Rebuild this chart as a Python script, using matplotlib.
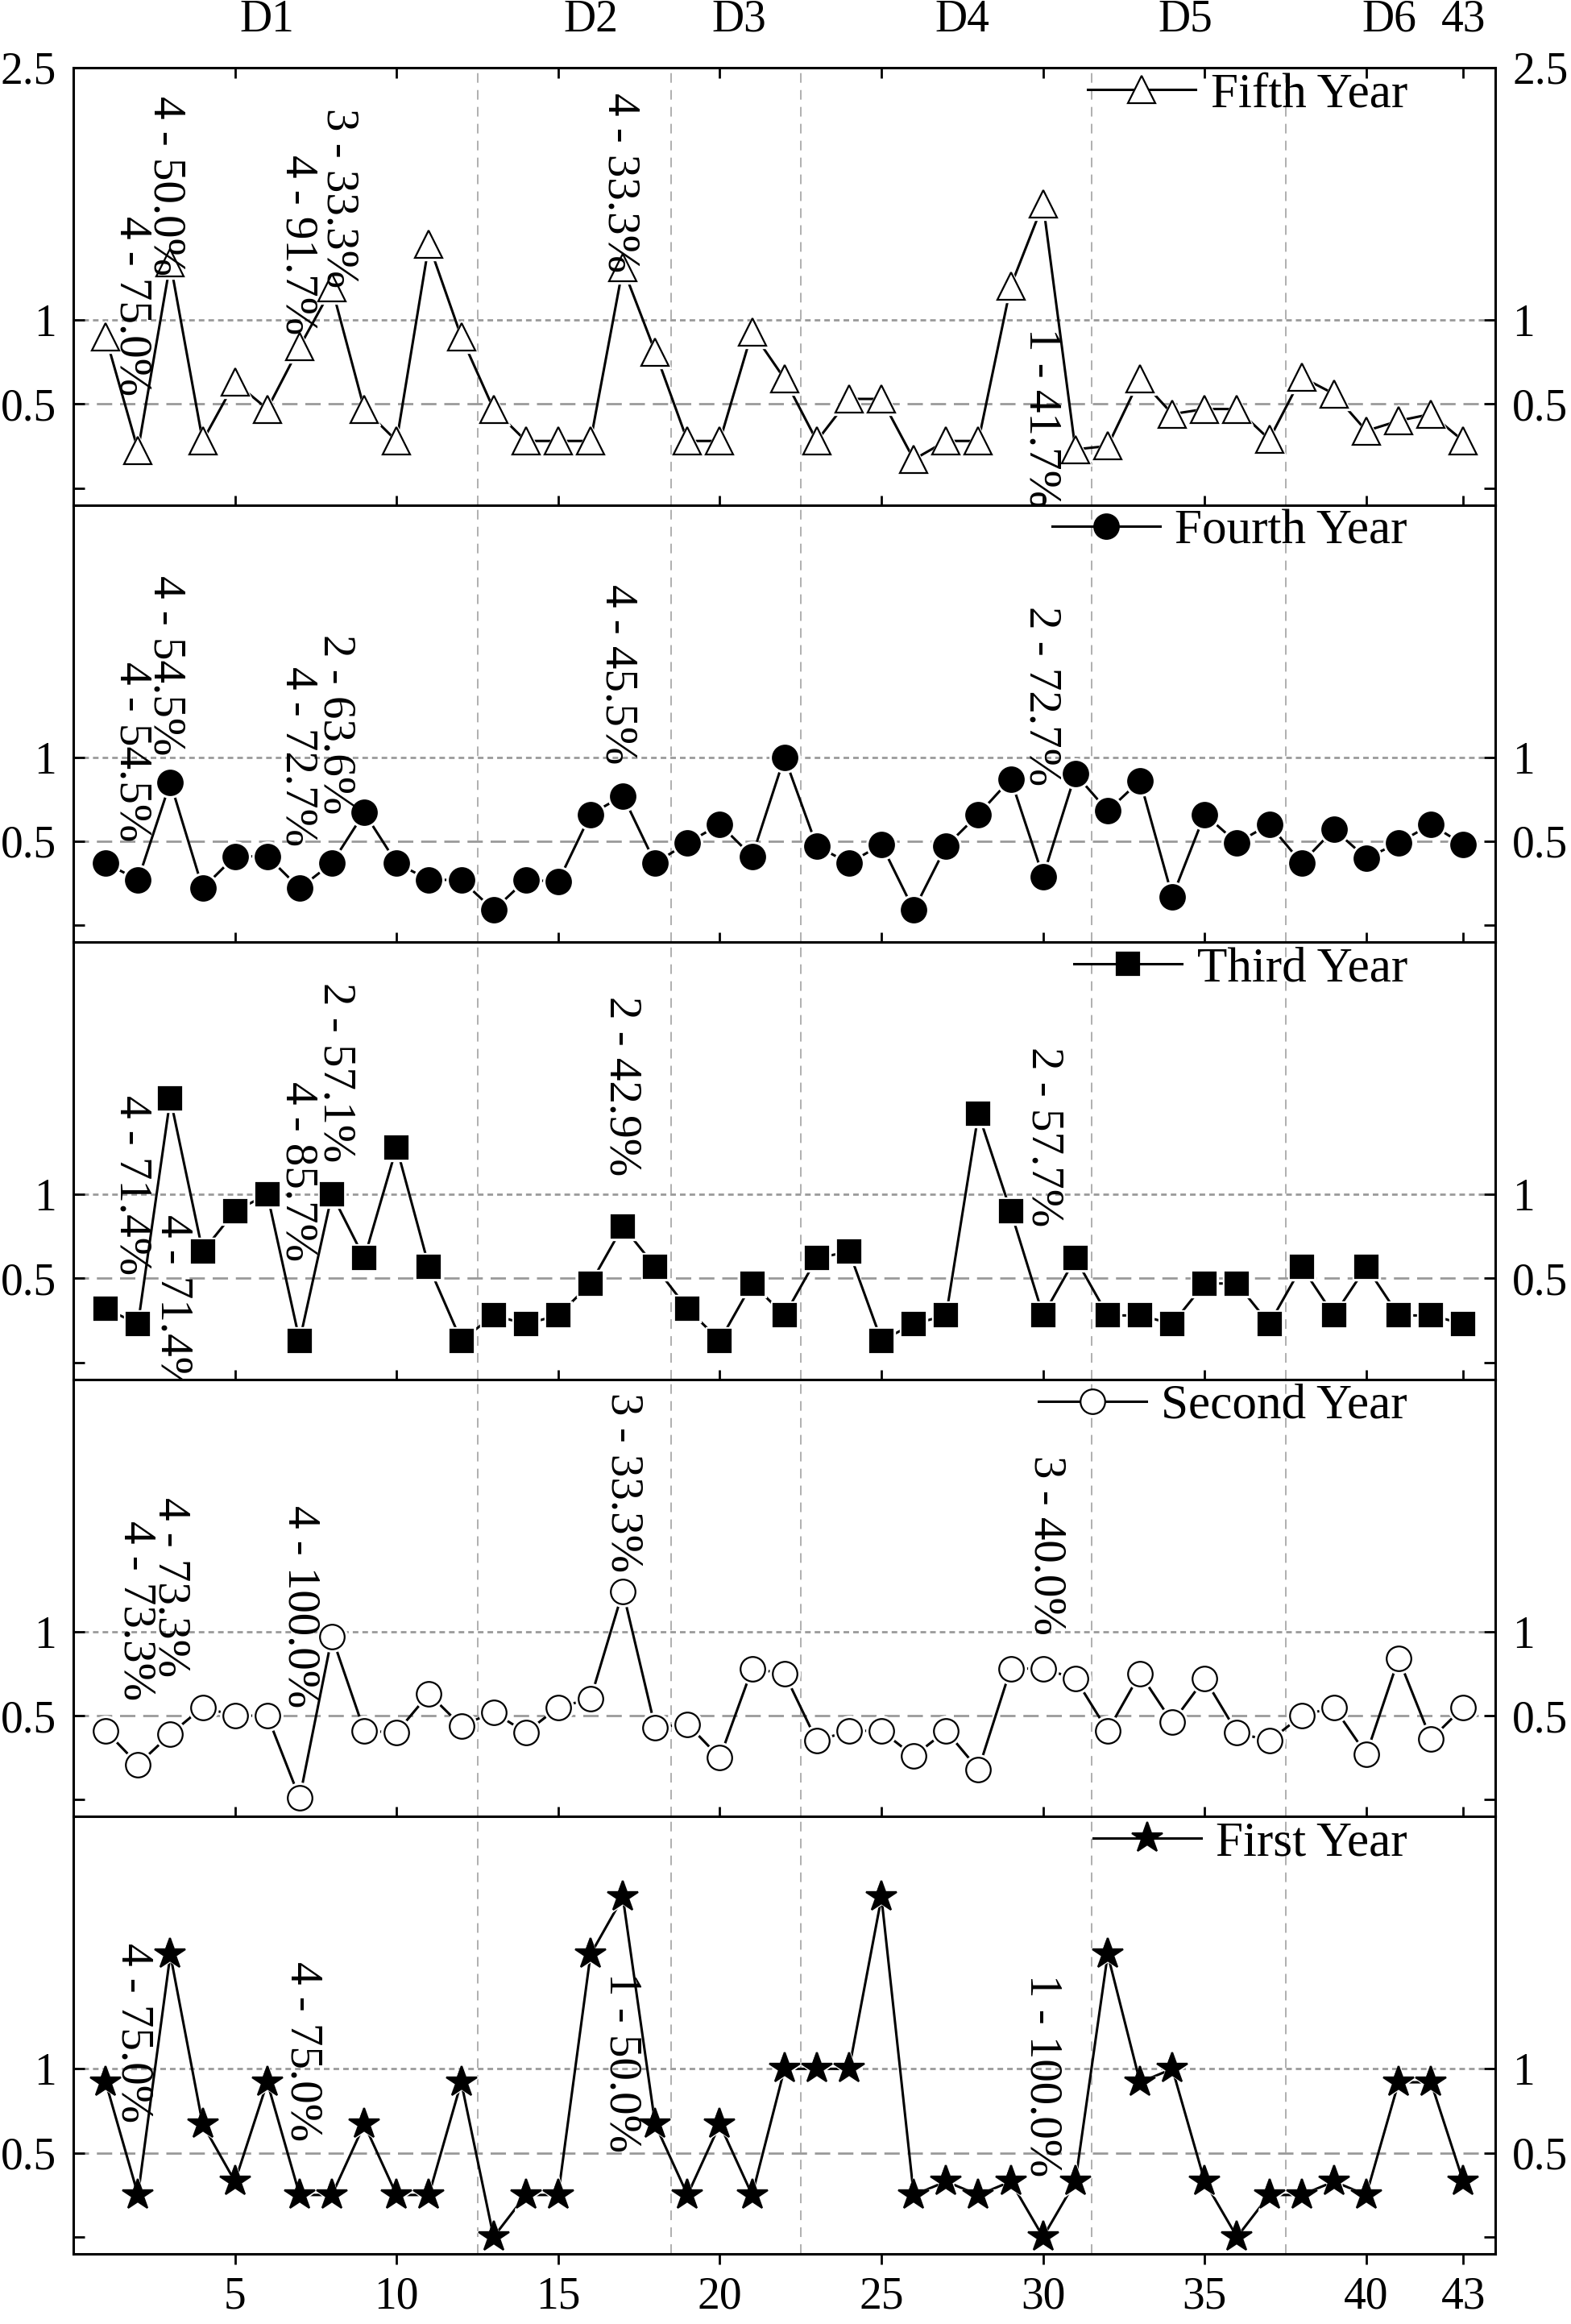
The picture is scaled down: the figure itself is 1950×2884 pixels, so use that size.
import matplotlib
matplotlib.use('Agg')
import matplotlib.pyplot as plt

plt.rcParams['font.family'] = ['Liberation Serif', 'DejaVu Serif']
plt.rcParams['lines.scale_dashes'] = False

# data
x = list(range(1, 44))

fifth = [0.90, 0.225, 1.34, 0.28, 0.63, 0.47, 0.84, 1.19, 0.47, 0.28,
         1.45, 0.90, 0.47, 0.28, 0.28, 0.28, 1.31, 0.81, 0.28, 0.28,
         0.93, 0.65, 0.28, 0.53, 0.53, 0.17, 0.28, 0.28, 1.20, 1.69,
         0.23, 0.25, 0.65, 0.44, 0.47, 0.47, 0.29, 0.66, 0.56, 0.34,
         0.40, 0.44, 0.28]
fourth = [0.37, 0.27, 0.85, 0.22, 0.41, 0.41, 0.22, 0.37, 0.67, 0.37,
          0.27, 0.27, 0.09, 0.27, 0.26, 0.66, 0.77, 0.37, 0.49, 0.60,
          0.41, 1.00, 0.47, 0.37, 0.48, 0.09, 0.47, 0.66, 0.87, 0.29,
          0.90, 0.68, 0.86, 0.17, 0.66, 0.49, 0.60, 0.37, 0.57, 0.40,
          0.49, 0.60, 0.48]
third = [0.32, 0.23, 1.57, 0.66, 0.90, 1.00, 0.13, 1.00, 0.62, 1.28,
         0.57, 0.13, 0.28, 0.23, 0.28, 0.47, 0.81, 0.57, 0.32, 0.13,
         0.47, 0.28, 0.62, 0.66, 0.13, 0.23, 0.28, 1.48, 0.90, 0.28,
         0.62, 0.28, 0.28, 0.23, 0.47, 0.47, 0.23, 0.57, 0.28, 0.57,
         0.28, 0.28, 0.23]
second = [0.41, 0.21, 0.39, 0.55, 0.50, 0.50, 0.01, 0.97, 0.41, 0.40,
          0.63, 0.44, 0.52, 0.40, 0.55, 0.60, 1.24, 0.43, 0.45, 0.25,
          0.78, 0.75, 0.35, 0.41, 0.41, 0.26, 0.41, 0.18, 0.78, 0.78,
          0.72, 0.41, 0.75, 0.46, 0.72, 0.40, 0.35, 0.50, 0.55, 0.27,
          0.84, 0.36, 0.55]
first = [0.92, 0.25, 1.68, 0.67, 0.33, 0.92, 0.25, 0.25, 0.67, 0.25,
         0.25, 0.92, 0.00, 0.25, 0.25, 1.68, 2.02, 0.67, 0.25, 0.67,
         0.25, 1.00, 1.00, 1.00, 2.02, 0.25, 0.33, 0.25, 0.33, 0.00,
         0.33, 1.68, 0.92, 1.00, 0.33, 0.00, 0.25, 0.25, 0.33, 0.25,
         0.92, 0.92, 0.33]

names = ['Fifth Year', 'Fourth Year', 'Third Year', 'Second Year', 'First Year']
values = [fifth, fourth, third, second, first]

group_bounds = [12.5, 18.5, 22.5, 31.5, 37.5]
top_labels = ['D1', 'D2', 'D3', 'D4', 'D5', 'D6', '43']
top_pos = [6.0, 16.0, 20.6, 27.5, 34.4, 40.7, 43]

notes = [
    [('4 - 75.0%', 1.81, 1.62), ('4 - 50.0%', 2.86, 2.33), ('4 - 91.7%', 6.94, 1.98),
     ('3 - 33.3%', 8.2, 2.26), ('4 - 33.3%', 16.9, 2.35), ('1 - 41.7%', 29.95, 0.95)],
    [('4 - 54.5%', 1.81, 1.57), ('4 - 54.5%', 2.86, 2.08), ('4 - 72.7%', 6.94, 1.54),
     ('2 - 63.6%', 8.12, 1.73), ('4 - 45.5%', 16.84, 2.03), ('2 - 72.7%', 29.95, 1.90)],
    [('4 - 71.4%', 1.81, 1.59), ('4 - 71.4%', 3.07, 0.88), ('4 - 85.7%', 6.94, 1.67),
     ('2 - 57.1%', 8.12, 2.26), ('2 - 42.9%', 16.95, 2.18), ('2 - 57.7%', 30.03, 1.88)],
    [('4 - 73.3%', 1.92, 1.66), ('4 - 73.3%', 3.0, 1.80), ('4 - 100.0%', 7.02, 1.75),
     ('3 - 33.3%', 17.0, 2.42), ('3 - 40.0%', 30.1, 2.05)],
    [('4 - 75.0%', 1.86, 1.75), ('4 - 75.0%', 7.1, 1.64), ('1 - 50.0%', 16.95, 1.57),
     ('1 - 100.0%', 29.98, 1.56)],
]

# marker, face colour, size
styles = [('^', 'white', 24), ('o', 'black', 22), ('s', 'black', 20),
          ('o', 'white', 22), ('*', 'black', 29)]

fig, axes = plt.subplots(5, 1, figsize=(19.5, 28.84), dpi=100, sharex=True)
fig.subplots_adjust(left=0.0467, right=0.952, bottom=0.0302, top=0.9709, hspace=0)

for i, ax in enumerate(axes):
    m, fc, ms = styles[i]
    y = values[i]
    ax.plot(x, y, color='black', lw=2.2, marker=m, ms=ms, mfc=fc, mec='black',
            mew=1.6, label=names[i], zorder=2)
    ax.plot(x, y, lw=0, marker=m, ms=ms + 5, mfc='white', mec='white', zorder=3)
    ax.plot(x, y, lw=0, marker=m, ms=ms, mfc=fc, mec='black', mew=1.6, zorder=4)

    for b in group_bounds:
        ax.axvline(b, color='#9a9a9a', lw=1.1, ls=(0, (8.6, 6.5)), zorder=1)
    ax.axhline(1, color='#9a9a9a', lw=2.0, ls=(0, (5, 3.6)), zorder=1)
    ax.axhline(0.5, color='#9a9a9a', lw=2.0, ls=(0, (13.7, 7)), zorder=1)

    for txt, tx, ty in notes[i]:
        ax.text(tx, ty, txt, rotation=-90, ha='center', va='top', fontsize=41,
                zorder=5)

    ax.set_xlim(0, 44)
    ax.set_ylim(-0.1, 2.5)
    ax.set_yticks([0, 0.5, 1, 2.5])
    ax.set_yticklabels(['', '0.5', '1', '2.5' if i == 0 else ''])
    ax.tick_params(axis='y', direction='in', left=True, right=True,
                   labelleft=True, labelright=True, length=10, width=2,
                   labelsize=40)
    ax.tick_params(axis='y', which='major', pad=15)
    for lab in ax.get_yticklabels(which='major'):
        pass
    ax.yaxis.set_tick_params(which='major', labelright=True)
    for t in ax.yaxis.get_major_ticks():
        t.label2.set_x(1.0)
    for s in ax.spines.values():
        s.set_linewidth(2.2)

    ax.legend(loc='upper right', bbox_to_anchor=(0.938, 0.99), frameon=False,
              borderaxespad=0, borderpad=0, handlelength=2.2,
              handletextpad=0.3, fontsize=44)

# right labels closer to the spine
for ax in axes:
    for t in ax.yaxis.get_major_ticks():
        t.set_pad(15)
        t.label2.set_transform(t.label2.get_transform())
    ax.tick_params(axis='y', which='major', labelright=True)

bottom = axes[-1]
bottom.set_xticks([5, 10, 15, 20, 25, 30, 35, 40, 43])
bottom.set_xticklabels(['5', '10', '15', '20', '25', '30', '35', '40', '43'])
bottom.tick_params(axis='x', direction='out', length=9, width=2, labelsize=40,
                   pad=11)

for ax in axes[:-1]:
    ax.tick_params(axis='x', which='both', direction='in', length=9, width=2,
                   labelbottom=False)
axes[0].tick_params(axis='x', top=True)

top = axes[0].secondary_xaxis('top')
top.set_xticks(top_pos)
top.set_xticklabels(top_labels)
top.tick_params(axis='x', length=0, labelsize=40, pad=24)
top.spines['top'].set_visible(False)

fig.savefig('out.png', dpi=100)
